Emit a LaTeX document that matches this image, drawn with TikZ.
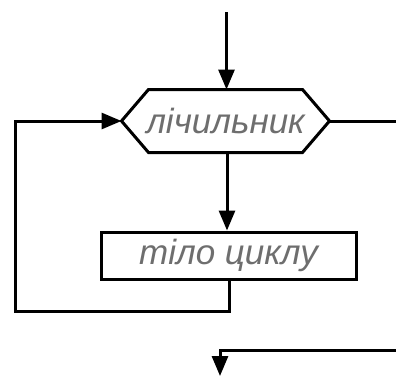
\documentclass[tikz,border=0pt]{standalone}
\usepackage{fontspec}
\setmainfont{Liberation Sans}
\usetikzlibrary{arrows.meta,calc}
\definecolor{txtgray}{HTML}{6E6E6E}
\begin{document}
\begin{tikzpicture}[x=1pt,y=1pt,
  line width=3pt,
  arr/.style={-{Triangle[length=20pt,width=16pt]}},
  lbl/.style={font=\fontsize{35}{37}\selectfont\itshape, text=txtgray, inner sep=0pt}]
\useasboundingbox (0,0) rectangle (396,376);
% nodes
\node[lbl, minimum width=205pt, minimum height=60pt] (cnt) at (225.5,255) {лічильник};
\draw ($(cnt.north west)+(27,0)$) -- ($(cnt.north east)+(-27,0)$) -- (cnt.east)
   -- ($(cnt.south east)+(-27,0)$) -- ($(cnt.south west)+(27,0)$) -- (cnt.west) -- cycle;
\node[lbl, draw, minimum width=255pt, minimum height=47pt] (body) at (228.5,120.5) {тіло циклу};
\coordinate (top) at (226.5,364);
\coordinate (exitR) at (396,255);
\coordinate (l1) at (229,65);
\coordinate (l2) at (15,65);
\coordinate (l3) at (15,255);
\coordinate (inR) at (396,26);
\coordinate (bend) at (220,26);
\coordinate (bot) at (220,0);
% connectors
\draw[arr] (top) -- (top |- cnt.north);
\draw (cnt.east) -- (exitR);
\draw[arr] (cnt.south -| 227,0) -- (227,0 |- body.north);
\draw[arr] (body.south -| l1) -- (l1) -- (l2) -- (l3) -- (cnt.west);
\draw[arr] (inR) -- (bend) -- (bot);
\end{tikzpicture}
\end{document}
